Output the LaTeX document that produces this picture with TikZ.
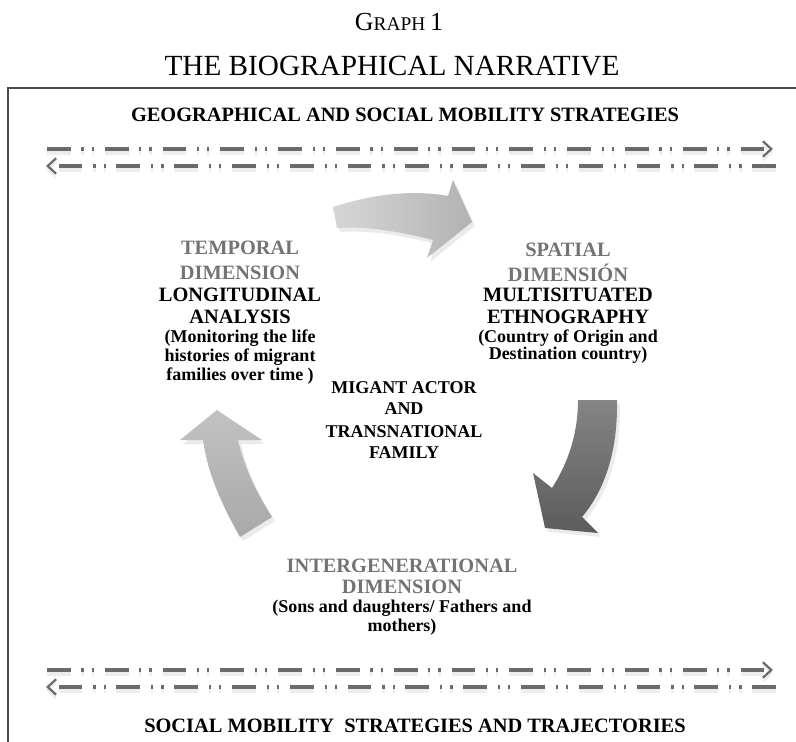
\documentclass[tikz,border=0pt]{standalone}
\usepackage{fontspec}
\setmainfont{Liberation Serif}
\usetikzlibrary{arrows.meta}

% outlines of the three curved arrows (pixel coordinates)
\newcommand{\arrowtop}{(333,207) .. controls (370,195) and (410,189) .. (448,196) -- (453,180) -- (472,222) -- (427,258) -- (433,240) .. controls (400,232) and (370,226) .. (337,228) -- cycle}
\newcommand{\arrowright}{(578,400) -- (617,400) .. controls (618,450) and (605,490) .. (582,517) -- (598,533) -- (545,528) -- (533,473) -- (552,488) .. controls (570,460) and (578,430) .. (578,400) -- cycle}
\newcommand{\arrowleft}{(217,410) -- (262,440) -- (238,440) .. controls (245,470) and (258,495) .. (272,517) -- (240,537) .. controls (222,505) and (208,475) .. (203,440) -- (180,440) -- cycle}

\tikzset{
  head/.style={font=\fontsize{14.5}{16}\selectfont\bfseries},
  dimhead/.style={head, text=black!55},
  sub/.style={font=\fontsize{12.8}{14}\selectfont\bfseries},
  flow/.style={draw=black!58, line width=2.3pt,
    dash pattern=on 17pt off 7.5pt on 1.6pt off 5.6pt on 1.6pt off 7.8pt,
    -{Straight Barb[length=6pt,width=11pt,line width=1.6pt]}},
  flowshade/.style={flow, draw=black!7, line width=3.4pt},
}

\begin{document}
\begin{tikzpicture}[x=0.025cm, y=-0.025cm]
  \useasboundingbox (0,0) rectangle (796,742);
  % titles
  \node (graph) at (399,22) {\fontsize{18.5}{20}\selectfont G\fontsize{13.8}{16}\selectfont RAPH \fontsize{18.5}{20}\selectfont 1};
  \node (title) at (392,66) {\fontsize{20.8}{22}\selectfont THE BIOGRAPHICAL NARRATIVE};
  % frame
  \coordinate (fbl) at (8,742);
  \coordinate (ftl) at (8,88);
  \coordinate (ftr) at (796,88);
  \draw[black!70, line width=1.4pt] (fbl) -- (ftl) -- (ftr);
  % top strategies
  \node[head] (geo) at (405,115) {GEOGRAPHICAL AND SOCIAL MOBILITY STRATEGIES};
  \coordinate (t1a) at (47,149);  \coordinate (t1b) at (773,149);
  \coordinate (t2a) at (776,166); \coordinate (t2b) at (46,166);
  \draw[flowshade] ([yshift=-2.5pt]t1a) -- ([yshift=-2.5pt]t1b);
  \draw[flowshade] ([yshift=-2.5pt]t2a) -- ([yshift=-2.5pt]t2b);
  \draw[flow] (t1a) -- (t1b);
  \draw[flow] (t2a) -- (t2b);
  % bottom strategies
  \coordinate (b1a) at (47,670);  \coordinate (b1b) at (773,670);
  \coordinate (b2a) at (776,687); \coordinate (b2b) at (46,687);
  \draw[flowshade] ([yshift=-2.5pt]b1a) -- ([yshift=-2.5pt]b1b);
  \draw[flowshade] ([yshift=-2.5pt]b2a) -- ([yshift=-2.5pt]b2b);
  \draw[flow] (b1a) -- (b1b);
  \draw[flow] (b2a) -- (b2b);
  \node[head] (social) at (415,726) {SOCIAL MOBILITY\ \ STRATEGIES AND TRAJECTORIES};
  % curved arrows
  \fill[black!8, shift={(3,4)}] \arrowtop;
  \shade[left color=black!16, right color=black!30] \arrowtop;
  \fill[black!8, shift={(3,4)}] \arrowright;
  \shade[top color=black!48, bottom color=black!64] \arrowright;
  \fill[black!8, shift={(3,4)}] \arrowleft;
  \shade[top color=black!24, bottom color=black!34] \arrowleft;
  % temporal dimension
  \node[dimhead] (temporal) at (240,248) {TEMPORAL};
  \node[dimhead] (tdim) at (240,273) {DIMENSION};
  \node[head] (longit) at (240,295) {LONGITUDINAL};
  \node[head] (analysis) at (240,317) {ANALYSIS};
  \node[sub] (mon1) at (240,338) {(Monitoring the life};
  \node[sub] (mon2) at (240,357) {histories of migrant};
  \node[sub] (mon3) at (240,376) {families\ over time )};
  % spatial dimension
  \node[dimhead] (spatial) at (568,250) {SPATIAL};
  \node[dimhead] (sdim) at (568,273) {DIMENSIÓN};
  \node[head] (multi) at (568,295) {MULTISITUATED};
  \node[head] (ethno) at (568,317) {ETHNOGRAPHY};
  \node[sub] (coun1) at (568,338) {(Country of Origin and};
  \node[sub] (coun2) at (568,355) {Destination country)};
  % centre
  \node[sub] (actor) at (404,388) {MIGANT ACTOR};
  \node[sub] (and) at (404,409) {AND};
  \node[sub] (trans) at (404,432) {TRANSNATIONAL};
  \node[sub] (family) at (404,453) {FAMILY};
  % intergenerational dimension
  \node[dimhead] (inter) at (402,566) {INTERGENERATIONAL};
  \node[dimhead] (idim) at (402,587) {DIMENSION};
  \node[sub] (sons1) at (402,608) {(Sons and daughters/ Fathers and};
  \node[sub] (sons2) at (402,627) {mothers)};
\end{tikzpicture}
\end{document}
